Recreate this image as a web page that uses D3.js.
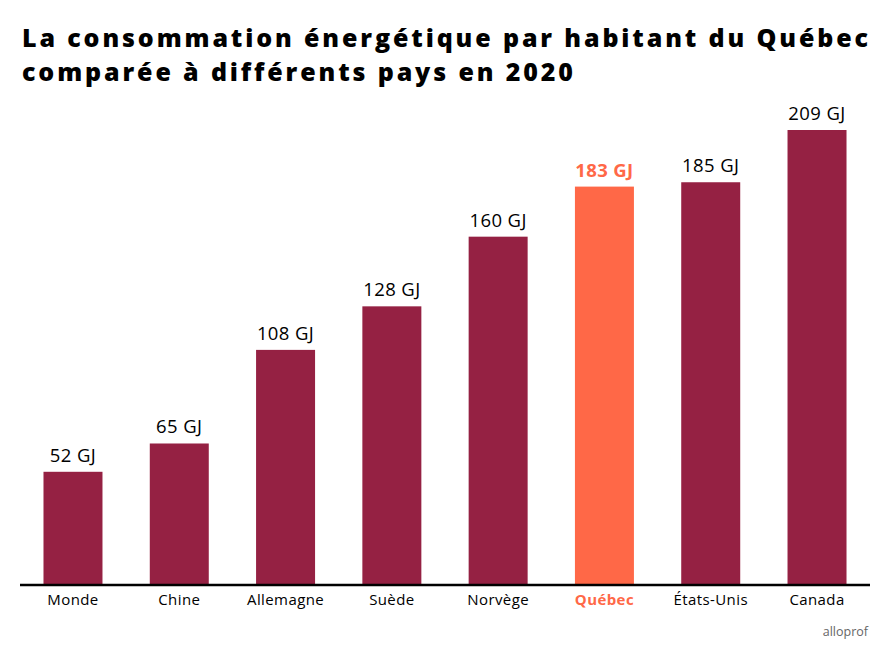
<!DOCTYPE html>
<html><head><meta charset="utf-8">
<script src="https://cdn.jsdelivr.net/npm/d3@7"></script>
<style>body{margin:0;background:#fff;} svg{display:block;}</style>
</head><body>
<script>
const categories = ["Monde","Chine","Allemagne","Suède","Norvège","Québec","États-Unis","Canada"];
const values = [52,65,108,128,160,183,185,209];
const highlight = "Québec";
const unit = " GJ";
const titleLines = ["La consommation énergétique par habitant du Québec","comparée à différents pays en 2020"];

const W=891,H=656;
const FONT="'Open Sans'";
const svg=d3.select("body").append("svg").attr("width",W).attr("height",H);
const baseY=585;
const x=d3.scaleBand().domain(categories).range([20,870]).paddingInner(0.445).paddingOuter(0.221);
const y=d3.scaleLinear().domain([0,209]).range([baseY,130]);
const barColor="#952143", hiColor="#FF6847";

const title=svg.append("g");
const tfs=25;
let ls=0;
titleLines.forEach((t,i)=>{
  const tx=title.append("text").attr("x",22).attr("y",46.5+i*34).text(t)
   .attr("font-family",FONT).attr("font-weight",800).attr("font-size",tfs).attr("fill","#000");
  if(i===0){
    const len=tx.node().getComputedTextLength();
    ls=Math.max(0,(846-len)/(t.length-1));
  }
});
title.selectAll("text").attr("letter-spacing",ls);

svg.selectAll("rect.bar").data(categories).join("rect").attr("class","bar")
 .attr("x",d=>x(d)).attr("width",x.bandwidth())
 .attr("y",(d,i)=>y(values[i])).attr("height",(d,i)=>baseY-y(values[i]))
 .attr("fill",d=>d===highlight?hiColor:barColor);

svg.selectAll("text.val").data(categories).join("text").attr("class","val")
 .attr("x",d=>x(d)+x.bandwidth()/2).attr("y",(d,i)=>y(values[i])-10)
 .attr("text-anchor","middle").attr("font-family",FONT).attr("font-size",18.5)
 .attr("letter-spacing",0.4)
 .attr("font-weight",d=>d===highlight?700:400)
 .attr("fill",d=>d===highlight?hiColor:"#000")
 .text((d,i)=>values[i]+unit);

const axis=svg.append("g").attr("transform",`translate(0,${baseY})`)
 .call(d3.axisBottom(x).tickSize(0).tickPadding(9));
axis.select(".domain").attr("d","M20,0H870").attr("stroke","#000").attr("stroke-width",2.5);
axis.selectAll("text").attr("font-family",FONT).attr("font-size",15)
 .attr("letter-spacing",0.4)
 .attr("font-weight",d=>d===highlight?700:400)
 .attr("fill",d=>d===highlight?hiColor:"#000");

svg.append("text").attr("x",868).attr("y",636).attr("text-anchor","end")
 .attr("font-family",FONT).attr("font-size",12.5).attr("fill","#666").text("alloprof");
</script>
</body></html>
